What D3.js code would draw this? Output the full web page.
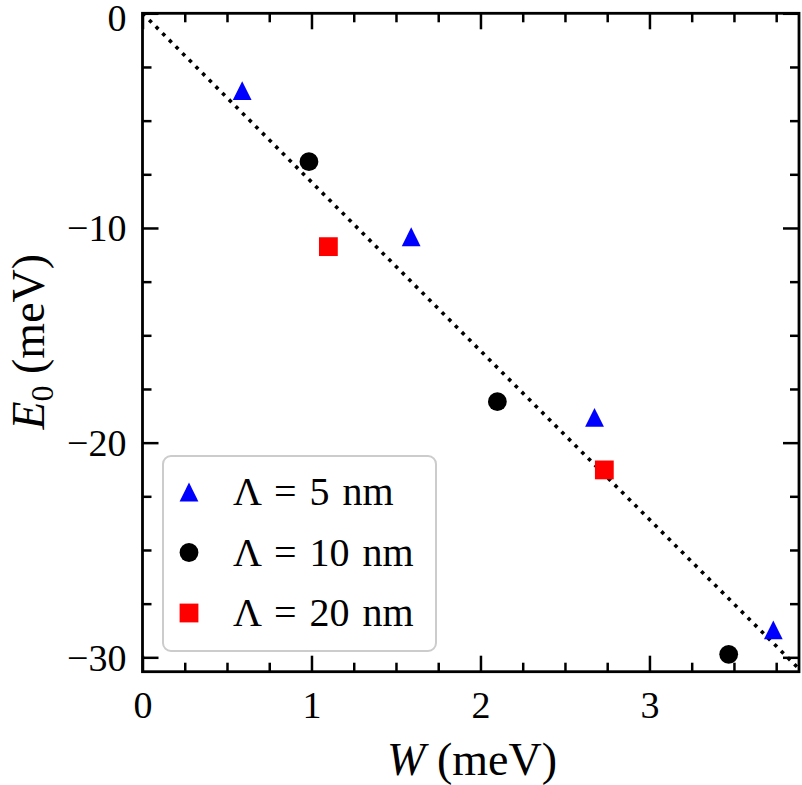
<!DOCTYPE html>
<html>
<head>
<meta charset="utf-8">
<script src="https://cdn.jsdelivr.net/npm/d3@7"></script>
<style>
  body { margin: 0; background: #ffffff; }
  svg { display: block; }
  text { font-family: "Liberation Serif", "Times New Roman", serif; fill: #000; }
</style>
</head>
<body>
<svg></svg>
<script>
// Data
const w5 = [0.59, 1.59, 2.675, 3.733];
const e5 = [-3.60, -10.41, -18.82, -28.72];
const w10 = [0.985, 2.10, 3.469];
const e10 = [-6.91, -18.09, -29.86];
const w20 = [1.10, 2.733];
const e20 = [-10.87, -21.27];
const fitSlope = -7.86;          // dotted guide line E0 = slope * W
const xTickValues = [0, 1, 2, 3];
const yTickValues = [0, -10, -20, -30];
const legendLabels = ["\u039B = 5 nm", "\u039B = 10 nm", "\u039B = 20 nm"];

// Set up the SVG dimensions
const svgWidth = 802, svgHeight = 785;
const margin = { top: 13.3, right: 3, bottom: 113.3, left: 142.5 };
const chartWidth = svgWidth - margin.left - margin.right;
const chartHeight = svgHeight - margin.top - margin.bottom;

const svg = d3.select("svg")
    .attr("width", svgWidth)
    .attr("height", svgHeight);

const chart = svg.append("g")
    .attr("transform", `translate(${margin.left},${margin.top})`);

// Scales
const xScale = d3.scaleLinear().domain([0, 3.885]).range([0, chartWidth]);
const yScale = d3.scaleLinear().domain([-30.67, 0]).range([chartHeight, 0]);

const xMinor = d3.range(0, 3.9, 0.25).filter(v => v % 1 !== 0);
const yMinor = d3.range(0, -30.7, -2.5).filter(v => v % 10 !== 0);

const majorLen = 16, minorLen = 9;

// Tick helper: draws inward ticks on one side
function ticks(axisFn, scale, values, len, labels) {
    const a = axisFn(scale).tickValues(values).tickSize(-len);
    if (!labels) a.tickFormat("");
    return a;
}

// Bottom axis with labels
const xAxis = chart.append("g")
    .attr("transform", `translate(0,${chartHeight})`)
    .call(ticks(d3.axisBottom, xScale, xTickValues, majorLen, true).tickPadding(18).tickFormat(d3.format("d")));
chart.append("g")
    .attr("transform", `translate(0,${chartHeight})`)
    .call(ticks(d3.axisBottom, xScale, xMinor, minorLen, false));
// Top axis (ticks only)
chart.append("g").call(ticks(d3.axisTop, xScale, xTickValues, majorLen, false));
chart.append("g").call(ticks(d3.axisTop, xScale, xMinor, minorLen, false));

// Left axis with labels
const yAxis = chart.append("g")
    .call(ticks(d3.axisLeft, yScale, yTickValues, majorLen, true).tickPadding(16).tickFormat(d3.format("d")));
chart.append("g").call(ticks(d3.axisLeft, yScale, yMinor, minorLen, false));
// Right axis (ticks only)
chart.append("g")
    .attr("transform", `translate(${chartWidth},0)`)
    .call(ticks(d3.axisRight, yScale, yTickValues, majorLen, false));
chart.append("g")
    .attr("transform", `translate(${chartWidth},0)`)
    .call(ticks(d3.axisRight, yScale, yMinor, minorLen, false));

chart.selectAll(".domain").remove();
chart.selectAll(".tick line").attr("stroke", "#000").attr("stroke-width", 2.5);
xAxis.selectAll(".tick text").style("font-size", "38px").attr("dy", "0.75em");
yAxis.selectAll(".tick text").style("font-size", "38px").attr("dy", "0.34em");
// keep the top "0" label inside the page
yAxis.selectAll(".tick text").filter(d => d === 0).attr("dy", "0.46em");

// Dotted guide line through origin
const lineX = [0, xScale.domain()[1]];
chart.append("clipPath").attr("id", "clip")
    .append("rect").attr("width", chartWidth).attr("height", chartHeight);
chart.append("path")
    .attr("clip-path", "url(#clip)")
    .attr("d", d3.line()(lineX.map(v => [xScale(v), yScale(fitSlope * v)])))
    .attr("fill", "none")
    .attr("stroke", "#000")
    .attr("stroke-width", 3.6)
    .attr("stroke-dasharray", "3.6 5.8");

// Marker shapes (matplotlib style, bbox centred)
const ms = 18.8;
const triPath = `M0,${-ms / 2}L${ms / 2},${ms / 2}L${-ms / 2},${ms / 2}Z`;

function drawTriangle(g, cx, cy) {
    g.append("path").attr("d", triPath)
        .attr("transform", `translate(${cx},${cy})`)
        .attr("fill", "#0000ff");
}
function drawCircle(g, cx, cy) {
    g.append("circle").attr("cx", cx).attr("cy", cy).attr("r", ms / 2).attr("fill", "#000");
}
function drawSquare(g, cx, cy) {
    g.append("rect").attr("x", cx - ms / 2).attr("y", cy - ms / 2)
        .attr("width", ms).attr("height", ms).attr("fill", "#ff0000");
}

w5.forEach((w, i) => drawTriangle(chart, xScale(w), yScale(e5[i])));
w10.forEach((w, i) => drawCircle(chart, xScale(w), yScale(e10[i])));
w20.forEach((w, i) => drawSquare(chart, xScale(w), yScale(e20[i])));

// Frame
chart.append("rect")
    .attr("width", chartWidth).attr("height", chartHeight)
    .attr("fill", "none").attr("stroke", "#000").attr("stroke-width", 2.8);

// Legend
const legend = svg.append("g").attr("transform", "translate(163,456)");
legend.append("rect")
    .attr("width", 273).attr("height", 195)
    .attr("rx", 8).attr("ry", 8)
    .attr("fill", "#ffffff").attr("fill-opacity", 0.85)
    .attr("stroke", "#cccccc").attr("stroke-width", 2);
const drawers = [drawTriangle, drawCircle, drawSquare];
legendLabels.forEach((label, i) => {
    const cy = 36 + i * 60.5;
    drawers[i](legend, 26, cy);
    legend.append("text")
        .attr("x", 70).attr("y", cy + 13)
        .style("font-size", "40px")
        .style("word-spacing", "3px")
        .text(label);
});

// Axis labels
svg.append("text")
    .attr("x", margin.left + xScale(1.95))
    .attr("y", 775)
    .attr("text-anchor", "middle")
    .style("font-size", "46px")
    .html('<tspan font-style="italic">W</tspan> (meV)');

svg.append("text")
    .attr("transform", `translate(44,${margin.top + yScale(-15.3)}) rotate(-90)`)
    .attr("text-anchor", "middle")
    .style("font-size", "46px")
    .html('<tspan font-style="italic">E</tspan><tspan dy="9" font-size="32px">0</tspan><tspan dy="-9"> (meV)</tspan>');
</script>
</body>
</html>
